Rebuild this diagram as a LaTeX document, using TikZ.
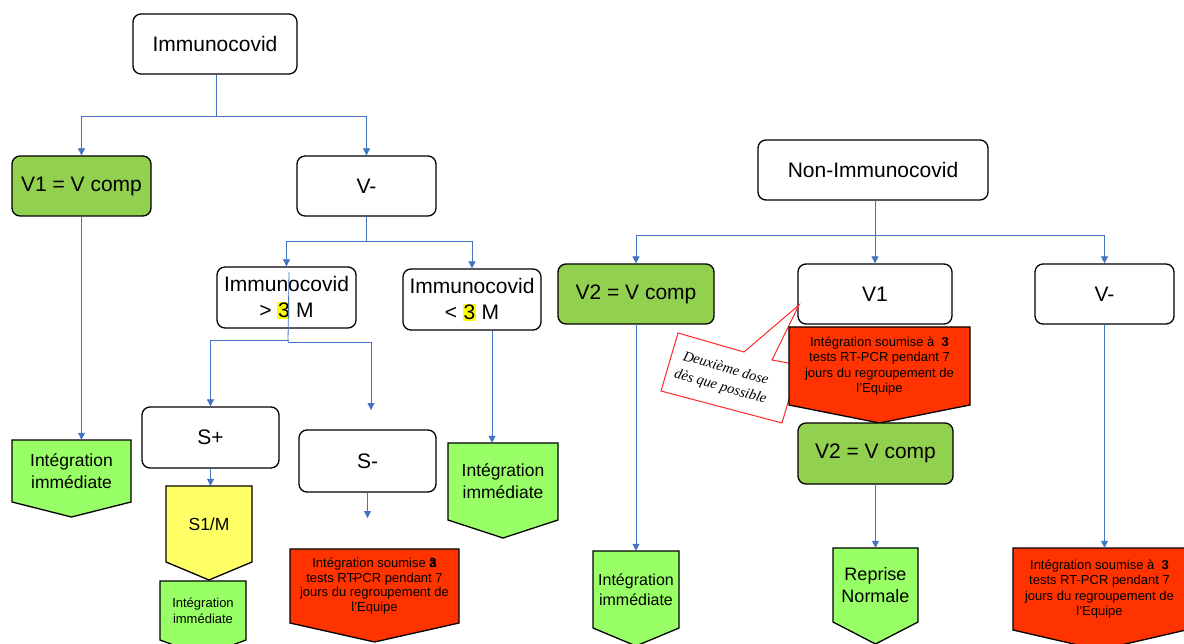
\documentclass[tikz,border=0pt]{standalone}
\usepackage{fontspec}
\setmainfont{Liberation Sans}
\newfontfamily\serifit{Liberation Serif}
\usetikzlibrary{arrows.meta,calc}
\definecolor{conn}{RGB}{68,114,196}
\definecolor{boxgreen}{RGB}{146,208,80}
\definecolor{lightgreen}{RGB}{153,255,102}
\definecolor{paleyellow}{RGB}{255,255,102}
\definecolor{alertred}{RGB}{255,51,0}
\definecolor{hl}{RGB}{255,255,0}
\definecolor{calloutred}{RGB}{255,40,40}
\setlength{\fboxsep}{0.6pt}
\newcommand{\hlt}[1]{\colorbox{hl}{#1}}
% name, x1, x2, ytop, yside, ypoint, fill, font, text
\newcommand{\penta}[9]{%
  \draw[pentaline, fill=#7] (#2,#4) -- (#3,#4) -- (#3,#5) -- ({(#2+#3)/2},#6) -- (#2,#5) -- cycle;
  \node[ptext, font=#8, minimum width={#3-#2}, minimum height={#5-#4}] (#1) at ({(#2+#3)/2},{(#4+#5)/2}) {#9};
}
\tikzset{
  rbox/.style={draw, line width=1.3pt, rounded corners=8pt, inner sep=1pt, align=center,
    font=\fontsize{21}{26}\selectfont},
  pentaline/.style={draw, line width=1.3pt, line join=miter},
  ptext/.style={inner sep=0pt, align=center},
  link/.style={draw=conn, line width=0.8pt},
  arr/.style={link, -{Triangle[length=7pt,width=7pt]}},
}
\begin{document}
\begin{tikzpicture}[x=1pt,y=-1pt]
\useasboundingbox (0,0) rectangle (1184,644);
\clip (0,0) rectangle (1184,644);

% ---------- left tree ----------
\node[rbox, minimum width=164, minimum height=60] (imm) at (215,44) {Immunocovid};
\node[rbox, fill=boxgreen, minimum width=139, minimum height=60] (v1c) at (81.5,186) {V1 = V comp};
\node[rbox, minimum width=139, minimum height=60] (vminL) at (366.5,186) {V-};
\node[rbox, minimum width=139, minimum height=61] (igt) at (286.5,297.5) {Immunocovid\\> \hlt{3} M};
\node[rbox, minimum width=138, minimum height=61] (ilt) at (472,299.5) {Immunocovid\\< \hlt{3} M};
\node[rbox, minimum width=137, minimum height=61] (splus) at (210.5,437.5) {S+};
\node[rbox, minimum width=137, minimum height=62] (sminus) at (367.5,461) {S-};

\penta{gL}{12}{131}{440}{502}{517}{lightgreen}{\fontsize{17.5}{22}\selectfont}{Intégration\\immédiate}
\penta{s1m}{166}{252}{486}{562}{580}{paleyellow}{\fontsize{17.5}{22}\selectfont}{S1/M}
\penta{gsmall}{160}{246}{581}{640}{656}{lightgreen}{\fontsize{13}{16}\selectfont}{Intégration\\immédiate}
\penta{redL}{290}{459}{549}{623}{642}{alertred}{\fontsize{13}{14.5}\selectfont}{Intégration soumise \rlap{à}\textbf{3}\\tests RT\kern-2.5pt-\kern-2.5pt PCR pendant 7\\jours du regroupement de\\l’Equipe}
\penta{gM}{448}{558}{443}{520}{538}{lightgreen}{\fontsize{17.5}{22}\selectfont}{Intégration\\immédiate}

% connectors left
\coordinate (j1) at (216,116);
\draw[link] (imm.south -| j1) -- (j1);
\draw[arr] (j1) -| (v1c.north);
\draw[arr] (j1) -| (vminL.north);

\coordinate (j2) at (366.5,241);
\draw[link] (vminL.south) -- (j2);
\draw[arr] (j2) -| (igt.north);
\draw[arr] (j2) -| (ilt.north);

\coordinate (j3top) at (289,272);
\coordinate (j3) at (289,340);
\coordinate (j3b) at (288,342);
\coordinate (sfree) at (371,410);
\draw[link] (j3top) -- (j3b);
\draw[arr] (j3) -| (splus.north);
\draw[arr] (j3b) -| (sfree);

\coordinate (x492) at (492,0);
\draw[arr] (ilt.south -| x492) -- (gM.north -| x492);
\draw[arr] (v1c.south) -- (gL.north -| v1c.south);
\draw[arr] (splus.south) -- (s1m.north -| splus.south);
\coordinate (sminusend) at (367.5,518);
\draw[arr] (sminus.south) -- (sminusend);

% ---------- right tree ----------
\node[rbox, minimum width=230, minimum height=60] (nonimm) at (873,170) {Non-Immunocovid};
\node[rbox, fill=boxgreen, minimum width=156, minimum height=60] (v2R) at (636,294) {V2 = V comp};
\node[rbox, minimum width=154, minimum height=60] (v1R) at (875,294) {V1};
\node[rbox, minimum width=139, minimum height=60] (vminR) at (1104.5,294) {V-};

% callout
\draw[calloutred, line width=1pt, fill=white, line join=miter]
  (678,333) -- (744,352) -- (799,305) -- (772,360) -- (799,365) -- (782,423) -- (661,391) -- cycle;
\node[rotate=-16, align=center, inner sep=0pt, font=\serifit\itshape\fontsize{14.5}{19}\selectfont] (call) at (723,378) {Deuxième dose\\dès que possible};

\penta{redV1}{789}{970}{327}{405}{423}{alertred}{\fontsize{13}{15.5}\selectfont}{Intégration soumise à \ \textbf{3}\\tests RT-PCR pendant 7\\jours du regroupement de\\l’Equipe}
\node[rbox, fill=boxgreen, minimum width=155, minimum height=61] (v2low) at (875.5,453.5) {V2 = V comp};

\penta{gR}{593}{679}{551}{628}{646}{lightgreen}{\fontsize{16}{20.5}\selectfont}{Intégration\\immédiate}
\penta{reprise}{833}{918}{548}{622}{644}{lightgreen}{\fontsize{18}{22}\selectfont}{Reprise\\Normale}
\penta{redR}{1013}{1186}{548}{630}{650}{alertred}{\fontsize{13}{15.5}\selectfont}{Intégration soumise à \ \textbf{3}\\tests RT-PCR pendant 7\\jours du regroupement de\\l’Equipe}

% connectors right
\coordinate (j4) at (875,235);
\draw[link] (nonimm.south -| j4) -- (j4);
\draw[arr] (j4) -| (v2R.north);
\draw[arr] (j4) -| (v1R.north);
\draw[arr] (j4) -| (vminR.north);
\draw[arr] (v2R.south) -- (gR.north -| v2R.south);
\draw[arr] (v2low.south) -- (reprise.north -| v2low.south);
\draw[arr] (vminR.south) -- (redR.north -| vminR.south);
\end{tikzpicture}
\end{document}
